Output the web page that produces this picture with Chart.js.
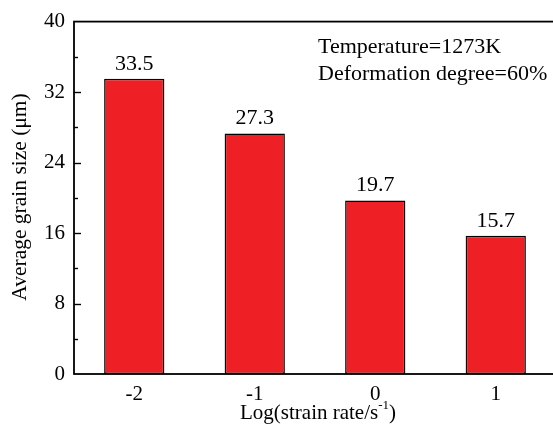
<!DOCTYPE html>
<html>
<head>
<meta charset="utf-8">
<script src="https://cdn.jsdelivr.net/npm/chart.js@4"></script>
<style>
  html, body { margin: 0; padding: 0; background: #fff; overflow: hidden; }
  #wrap { width: 560px; height: 430px; }
</style>
</head>
<body>
<div id="wrap"><canvas id="grainChart" width="560" height="430"></canvas></div>
<script>
// data
const strainRates = ['-2', '-1', '0', '1'];
const grainSizes = [33.5, 27.3, 19.7, 15.7];
const yTicks = [0, 8, 16, 24, 32, 40];
const notes = ['Temperature=1273K', 'Deformation degree=60%'];

const serif = '"Liberation Serif", "Times New Roman", serif';

// frame, inward ticks, value labels, axis titles, notes
const decorations = {
    id: 'decorations',
    afterDatasetsDraw(chart) {
        const ctx = chart.ctx;
        const area = chart.chartArea;
        const y = chart.scales.y;
        ctx.save();
        ctx.strokeStyle = '#000';
        ctx.lineWidth = 1.8;
        ctx.strokeRect(area.left, area.top, area.right - area.left, area.bottom - area.top);

        // ticks point into the plot, minor ones shorter
        ctx.lineWidth = 1.4;
        for (let v = 4; v < 40; v += 4) {
            const py = Math.round(y.getPixelForValue(v)) + 0.5;
            const len = yTicks.includes(v) ? 7 : 4;
            ctx.beginPath();
            ctx.moveTo(area.left, py);
            ctx.lineTo(area.left + len, py);
            ctx.stroke();
        }

        // values above bars
        ctx.fillStyle = '#000';
        ctx.font = '22px ' + serif;
        ctx.textAlign = 'center';
        ctx.textBaseline = 'alphabetic';
        chart.getDatasetMeta(0).data.forEach((bar, i) => {
            ctx.fillText(grainSizes[i].toFixed(1), bar.x, bar.y - 9);
        });

        // notes
        ctx.textAlign = 'left';
        ctx.fillText(notes[0], 318, 53);
        ctx.fillText(notes[1], 318, 80);

        // x title with superscript
        ctx.font = '21px ' + serif;
        const a = 'Log(strain rate/s', sup = '-1', b = ')';
        const wa = ctx.measureText(a).width;
        ctx.font = '13px ' + serif;
        const ws = ctx.measureText(sup).width;
        ctx.font = '21px ' + serif;
        const wb = ctx.measureText(b).width;
        let x0 = 318 - (wa + ws + wb) / 2;
        const by = 419;
        ctx.fillText(a, x0, by);
        ctx.font = '13px ' + serif;
        ctx.fillText(sup, x0 + wa, by - 10);
        ctx.font = '21px ' + serif;
        ctx.fillText(b, x0 + wa + ws, by);

        // y title
        ctx.translate(26, 197);
        ctx.rotate(-Math.PI / 2);
        ctx.textAlign = 'center';
        ctx.font = '21.5px ' + serif;
        ctx.fillText('Average grain size (\u03bcm)', 0, 0);
        ctx.restore();
    }
};

new Chart(document.getElementById('grainChart'), {
    type: 'bar',
    data: {
        labels: strainRates,
        datasets: [{
            data: grainSizes,
            backgroundColor: '#ee1f25',
            borderColor: '#000',
            borderWidth: 1.5,
            borderSkipped: false,
            barPercentage: 1,
            categoryPercentage: 0.5
        }]
    },
    options: {
        responsive: false,
        animation: false,
        layout: { padding: { top: 18, right: 4, left: 0, bottom: 0 } },
        plugins: { legend: { display: false }, tooltip: { enabled: false } },
        scales: {
            x: {
                grid: { display: false, drawTicks: false },
                border: { display: false },
                ticks: { color: '#000', font: { family: serif, size: 21 }, padding: 8 },
                afterFit(s) { s.height = 56; }
            },
            y: {
                min: 0,
                max: 40,
                grid: { display: false, drawTicks: false },
                border: { display: false },
                afterBuildTicks(s) { s.ticks = yTicks.map(v => ({ value: v })); },
                ticks: { color: '#000', font: { family: serif, size: 21 }, padding: 9 },
                afterFit(s) { s.width = 74; }
            }
        }
    },
    plugins: [decorations]
});
</script>
</body>
</html>
